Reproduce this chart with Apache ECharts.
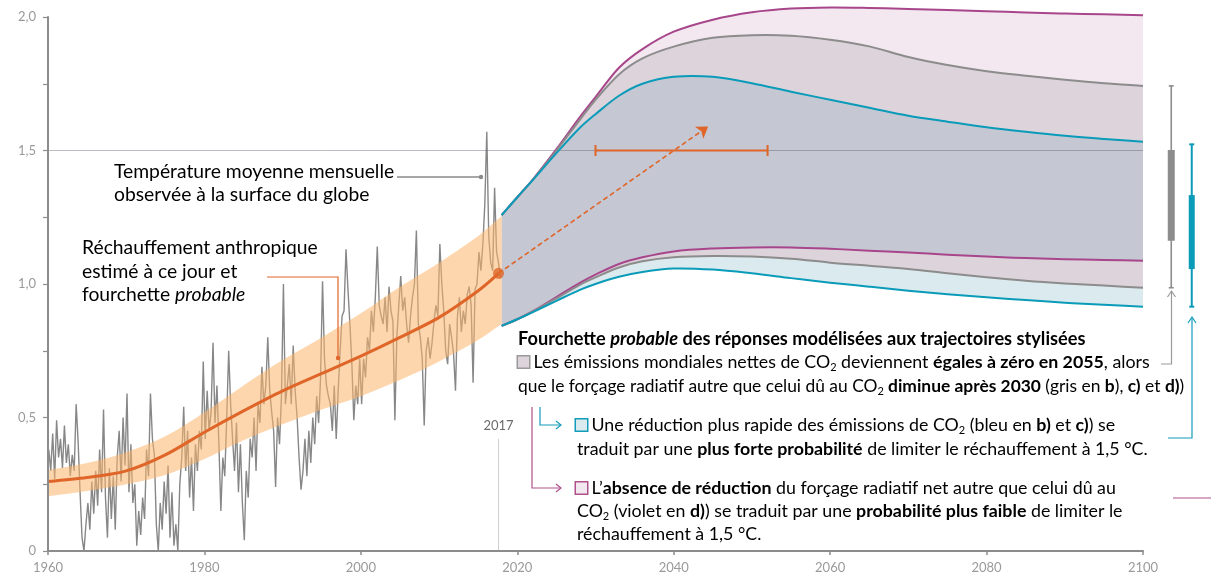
<!DOCTYPE html>
<html>
<head>
<meta charset="utf-8">
<script src="https://cdn.jsdelivr.net/npm/echarts/dist/echarts.min.js"></script>
<style>
html,body{margin:0;padding:0;background:#fff;}
#c{width:1211px;height:579px;}
</style>
</head>
<body>
<div id="c"></div>
<script>
// ---------------- DATA ----------------
const obsStartYear = 1960;
const obsPerYear = 4;
const observed = [
  0.38, 0.30, 0.44, 0.27,  0.49, 0.35, 0.42, 0.31,   // 1960-61
  0.47, 0.33, 0.40, 0.28,  0.36, 0.30, 0.55, 0.41,   // 1962-63
  0.22, 0.05, 0.00, 0.10,  0.18, 0.08, 0.26, 0.14,   // 1964-65
  0.30, 0.17, 0.38, 0.22,  0.53, 0.20, 0.05, 0.31,   // 1966-67
  0.12, 0.28, 0.08, 0.35,  0.45, 0.26, 0.50, 0.32,   // 1968-69
  0.59, 0.22, 0.40, 0.18,  0.25, 0.02, 0.15, 0.06,   // 1970-71
  0.20, 0.12, 0.38, 0.28,  0.59, 0.42, 0.36, 0.10,   // 1972-73
  0.00, 0.18, 0.08, 0.26,  0.14, 0.32, 0.05, 0.22,   // 1974-75
  0.02, 0.10, 0.00, 0.25,  0.35, 0.54, 0.30, 0.45,   // 1976-77
  0.20, 0.35, 0.15, 0.40,  0.30, 0.45, 0.38, 0.71,   // 1978-79
  0.42, 0.60, 0.45, 0.52,  0.78, 0.48, 0.62, 0.40,   // 1980-81
  0.15, 0.35, 0.28, 0.50,  0.75, 0.55, 0.42, 0.30,   // 1982-83
  0.48, 0.22, 0.40, 0.18,  0.04, 0.30, 0.20, 0.42,   // 1984-85
  0.35, 0.50, 0.30, 0.55,  0.48, 0.69, 0.55, 0.62,   // 1986-87
  0.80, 0.60, 0.52, 0.45,  0.24, 0.50, 0.40, 0.58,   // 1988-89
  1.00, 0.55, 0.62, 0.70,  0.55, 0.77, 0.60, 0.50,   // 1990-91
  0.35, 0.23, 0.30, 0.42,  0.28, 0.45, 0.33, 0.50,   // 1992-93
  0.40, 0.58, 0.48, 0.65,  1.01, 0.72, 0.62, 0.58,   // 1994-95
  0.55, 0.45, 0.62, 0.42,  0.60, 0.75, 0.88, 0.90,   // 1996-97
  1.13, 0.98, 0.85, 0.70,  0.49, 0.62, 0.55, 0.72,   // 1998-99
  0.55, 0.72, 0.65, 0.80,  0.75, 0.90, 0.82, 0.95,   // 2000-01
  1.14, 0.92, 0.88, 0.85,  0.95, 0.82, 0.99, 0.90,   // 2002-03
  0.86, 0.49, 0.80, 0.92,  1.03, 0.90, 0.95, 0.85,   // 2004-05
  0.78, 0.88, 0.95, 1.00,  1.20, 0.85, 0.80, 0.72,   // 2006-07
  0.47, 0.75, 0.80, 0.72,  0.78, 0.86, 0.92, 0.88,   // 2008-09
  1.15, 1.00, 0.90, 0.75,  0.70, 0.85, 0.80, 0.74,   // 2010-11
  0.60, 0.88, 0.95, 0.82,  0.90, 0.85, 0.96, 0.99,   // 2012-13
  0.92, 0.63, 0.98, 1.00,  1.12, 1.05, 1.15, 1.30,   // 2014-15
  1.57, 1.18, 1.08, 1.05,  1.36, 1.12, 1.08, 1.02    // 2016-17
];

// Human-induced warming estimate and likely range
const trendYears  = [1960, 1965, 1970, 1975, 1980, 1985, 1990, 1995, 2000, 2005, 2010, 2015, 2017.6];
const trendValues = [0.26, 0.275, 0.30, 0.36, 0.445, 0.525, 0.60, 0.665, 0.73, 0.80, 0.875, 0.975, 1.04];
const bandYears = [1960, 1965, 1970, 1975, 1980, 1985, 1990, 1995, 2000, 2005, 2010, 2015, 2018];
const bandLow   = [0.205, 0.225, 0.25, 0.285, 0.345, 0.415, 0.475, 0.53, 0.58, 0.64, 0.71, 0.79, 0.85];
const bandHigh  = [0.303, 0.33, 0.37, 0.43, 0.52, 0.62, 0.715, 0.80, 0.89, 0.99, 1.08, 1.18, 1.255];

// Stylised pathway responses (likely ranges)
const projYears   = [2018, 2020, 2022, 2025, 2028, 2030, 2033, 2036, 2040, 2045, 2050, 2055, 2060, 2065, 2070, 2075, 2080, 2085, 2090, 2095, 2100];
const tealLower   = [0.843, 0.868, 0.895, 0.937, 0.978, 1.0, 1.027, 1.045, 1.058, 1.054, 1.04, 1.022, 1.005, 0.99, 0.975, 0.962, 0.95, 0.94, 0.93, 0.922, 0.915];
const grayLower   = [0.843, 0.868, 0.897, 0.946, 0.997, 1.025, 1.062, 1.085, 1.10, 1.105, 1.103, 1.095, 1.08, 1.068, 1.056, 1.04, 1.025, 1.012, 1.002, 0.994, 0.986];
const purpleLower = [0.843, 0.868, 0.898, 0.951, 1.004, 1.035, 1.075, 1.10, 1.122, 1.133, 1.137, 1.137, 1.132, 1.125, 1.118, 1.11, 1.103, 1.097, 1.093, 1.09, 1.087];
const tealUpper   = [1.258, 1.325, 1.39, 1.49, 1.585, 1.636, 1.705, 1.75, 1.776, 1.776, 1.752, 1.72, 1.69, 1.66, 1.63, 1.608, 1.587, 1.57, 1.555, 1.543, 1.533];
const grayUpper   = [1.258, 1.325, 1.391, 1.50, 1.615, 1.69, 1.785, 1.845, 1.889, 1.922, 1.932, 1.93, 1.915, 1.89, 1.85, 1.82, 1.797, 1.78, 1.765, 1.752, 1.742];
const purpleUpper = [1.258, 1.325, 1.392, 1.505, 1.625, 1.70, 1.81, 1.88, 1.945, 1.99, 2.018, 2.032, 2.036, 2.034, 2.03, 2.026, 2.022, 2.017, 2.013, 2.01, 2.007];

// Annotations in data units
const markYear = 2017.6;
const markValue = 1.04;
const arrowTo = [2044.4, 1.59];
const peakRange = [2030, 2052];
const peakLevel = 1.5;

// 2100 ranges (min, q1, q3, max)
const boxCategories = ['gris', 'bleu'];
const boxGray = [0.986, 1.162, 1.502, 1.742];
const boxTeal = [0.915, 1.056, 1.333, 1.523];

// Tick labels
const yTickLabels = ['0', '0,5', '1,0', '1,5', '2,0'];
const xTicks = [1960, 1980, 2000, 2020, 2040, 2060, 2080, 2100];

// ---------------- STYLE ----------------
const FONT = 'Lato, "Noto Sans", sans-serif';
const C = {
  axis: '#8c8c8c', label: '#9a9a9a',
  obs: '#878787', orange: '#df6528', band: 'rgba(251,181,105,0.55)',
  teal: '#0a9bb9', gray: '#8c8c8c', purple: '#a8468c',
  fTealLow: '#dbeaee', fMauve: '#ddd3db', fBlue: '#c5c7d3', fPink: '#f3e8ef'
};

const pairs = (xs, ys) => xs.map((x, i) => [x, ys[i]]);
const obsData = observed.map((v, i) => [obsStartYear + i / obsPerYear + 0.1, v]);

// rows for custom-drawn ranges
const bandRows = bandYears.map((y, i) => [y, bandLow[i], bandHigh[i]]);
// columns: year, tealLower, grayLower, purpleLower, tealUpper, grayUpper, purpleUpper
const projRows = projYears.map((y, i) => [y, tealLower[i], grayLower[i], purpleLower[i], tealUpper[i], grayUpper[i], purpleUpper[i]]);

// cubic Hermite path (smooth in x) through pixel points
function splinePath(pts, start) {
  const n = pts.length;
  const m = pts.map((p, i) => {
    const a = pts[Math.max(0, i - 1)], b = pts[Math.min(n - 1, i + 1)];
    return (b[1] - a[1]) / (b[0] - a[0]);
  });
  let d = (start ? 'M' : 'L') + pts[0][0].toFixed(2) + ' ' + pts[0][1].toFixed(2);
  for (let i = 0; i < n - 1; i++) {
    const p = pts[i], q = pts[i + 1], h = (q[0] - p[0]) / 3;
    d += ' C' + (p[0] + h).toFixed(2) + ' ' + (p[1] + m[i] * h).toFixed(2) + ' ' +
         (q[0] - h).toFixed(2) + ' ' + (q[1] - m[i + 1] * h).toFixed(2) + ' ' +
         q[0].toFixed(2) + ' ' + q[1].toFixed(2);
  }
  return d;
}
function colPoints(api, n, k) {
  const pts = [];
  for (let i = 0; i < n; i++) pts.push(api.coord([api.value(0, i), api.value(k, i)]));
  return pts;
}
function bandPath(lo, hi) {
  return splinePath(hi, true) + ' ' + splinePath(lo.slice().reverse(), false) + ' Z';
}

const chart = echarts.init(document.getElementById('c'));
const option = {
  animation: false,
  backgroundColor: '#fff',
  textStyle: { fontFamily: FONT },
  grid: [
    { left: 48, right: 68, top: 17, bottom: 28, containLabel: false, outerBoundsMode: 'none' },
    { left: 1161, width: 41, top: 17, bottom: 28, containLabel: false, outerBoundsMode: 'none' }
  ],
  xAxis: [
    { type: 'value', min: 1960, max: 2100, interval: 20, gridIndex: 0, z: 10,
      axisLine: { show: true, lineStyle: { color: C.axis, width: 2 } },
      axisTick: { show: true, length: 4, lineStyle: { color: C.axis, width: 1.5 } },
      axisLabel: { color: C.label, fontSize: 13, fontFamily: FONT, margin: 10,
        formatter: v => xTicks.includes(v) ? String(v) : '' },
      splitLine: { show: false } },
    { type: 'category', data: boxCategories, gridIndex: 1, show: false }
  ],
  yAxis: [
    { type: 'value', min: 0, max: 2, interval: 0.25, gridIndex: 0, z: 10,
      axisLine: { show: true, lineStyle: { color: C.axis, width: 2 } },
      axisTick: { show: true, length: 5, lineStyle: { color: C.axis, width: 1.2 } },
      axisLabel: { color: C.label, fontSize: 13, fontFamily: FONT, margin: 12,
        formatter: v => { const k = v / 0.5; return Math.abs(k - Math.round(k)) < 1e-6 ? yTickLabels[Math.round(k)] : ''; } },
      splitLine: { show: false } },
    { type: 'value', min: 0, max: 2, gridIndex: 1, show: false }
  ],
  series: [
    // observed monthly temperature
    { type: 'line', data: obsData, showSymbol: false, silent: true, z: 2,
      lineStyle: { color: C.obs, width: 1.4 },
      markLine: { silent: true, symbol: 'none', animation: false,
        lineStyle: { color: '#cfcfcf', width: 1, type: 'solid' },
        label: { show: true, position: 'end', formatter: '2017', color: '#6b6b6b', fontSize: 13, fontFamily: FONT, distance: 7 },
        data: [[{ coord: [markYear, 0] }, { coord: [markYear, 0.42] }]] } },
    // likely range of human-induced warming
    { type: 'custom', z: 3, silent: true, data: bandRows, encode: { x: 0, y: [1, 2] },
      renderItem: (params, api) => {
        if (params.dataIndexInside !== 0) return null;
        const n = params.dataInsideLength;
        return { type: 'path', shape: { pathData: bandPath(colPoints(api, n, 1), colPoints(api, n, 2)) },
          style: { fill: C.band } };
      } },
    // projection fills
    { type: 'custom', z: 2, silent: true, data: projRows, encode: { x: 0, y: [1, 2, 3, 4, 5, 6] },
      renderItem: (params, api) => {
        if (params.dataIndexInside !== 0) return null;
        const n = params.dataInsideLength;
        const L = [null];
        for (let k = 1; k <= 6; k++) L.push(colPoints(api, n, k));
        const f = (lo, hi, color) => ({ type: 'path', shape: { pathData: bandPath(L[lo], L[hi]) }, style: { fill: color } });
        return { type: 'group', children: [
          f(1, 2, C.fTealLow), f(2, 3, C.fMauve), f(3, 4, C.fBlue), f(4, 5, C.fMauve), f(5, 6, C.fPink)
        ] };
      } },
    // human-induced warming line + 1.5 reference line
    { type: 'line', data: pairs(trendYears, trendValues), smooth: 0.3, showSymbol: false, silent: true, z: 4,
      lineStyle: { color: C.orange, width: 3 },
      markLine: { silent: true, symbol: 'none', animation: false, label: { show: false },
        lineStyle: { color: 'rgba(95,95,110,0.42)', width: 1, type: 'solid' },
        data: [{ yAxis: peakLevel }] } },
    // projection lines
    { type: 'custom', z: 5, silent: true, data: projRows, encode: { x: 0, y: [1, 2, 3, 4, 5, 6] },
      renderItem: (params, api) => {
        if (params.dataIndexInside !== 0) return null;
        const n = params.dataInsideLength;
        const ln = (k, color) => ({ type: 'path', shape: { pathData: splinePath(colPoints(api, n, k), true) },
          style: { fill: null, stroke: color, lineWidth: 2 } });
        return { type: 'group', children: [
          ln(6, C.purple), ln(3, C.purple), ln(5, C.gray), ln(2, C.gray), ln(4, C.teal), ln(1, C.teal)
        ] };
      } },
    // dashed arrow
    { type: 'line', data: [], z: 6, silent: true,
      markLine: { silent: true, animation: false, symbol: ['none', 'arrow'], symbolSize: 11, label: { show: false },
        lineStyle: { color: C.orange, width: 1.6, type: [5, 3] },
        data: [[{ coord: [markYear, markValue] }, { coord: arrowTo }]] } },
    // time range at which 1.5 is reached
    { type: 'custom', z: 6, silent: true, data: [[peakRange[0], peakRange[1], peakLevel]],
      encode: { x: [0, 1], y: 2 },
      renderItem: (params, api) => {
        const a = api.coord([api.value(0), api.value(2)]);
        const b = api.coord([api.value(1), api.value(2)]);
        const st = { stroke: C.orange, lineWidth: 2 };
        return { type: 'group', children: [
          { type: 'line', shape: { x1: a[0], y1: a[1], x2: b[0], y2: b[1] }, style: st },
          { type: 'line', shape: { x1: a[0], y1: a[1] - 5.5, x2: a[0], y2: a[1] + 5.5 }, style: st },
          { type: 'line', shape: { x1: b[0], y1: b[1] - 5.5, x2: b[0], y2: b[1] + 5.5 }, style: st }
        ] };
      } },
    // present-day dot
    { type: 'scatter', data: [[markYear, markValue]], symbolSize: 11, z: 7, silent: true,
      itemStyle: { color: C.orange } },
    // 2100 ranges
    { type: 'custom', xAxisIndex: 1, yAxisIndex: 1, z: 5, silent: true,
      data: [[0].concat(boxGray), [1].concat(boxTeal)],
      encode: { x: 0, y: [1, 2, 3, 4] },
      renderItem: (params, api) => {
        const i = params.dataIndex;
        const color = i === 0 ? C.gray : C.teal;
        const lw = i === 0 ? 1.6 : 2;
        const bw = i === 0 ? 7 : 6;
        const x = api.coord([api.value(0), 0])[0];
        const yMin = api.coord([api.value(0), api.value(1)])[1];
        const yQ1 = api.coord([api.value(0), api.value(2)])[1];
        const yQ3 = api.coord([api.value(0), api.value(3)])[1];
        const yMax = api.coord([api.value(0), api.value(4)])[1];
        const st = { stroke: color, lineWidth: lw };
        return { type: 'group', children: [
          { type: 'line', shape: { x1: x, y1: yMax, x2: x, y2: yMin }, style: st },
          { type: 'line', shape: { x1: x - 2.5, y1: yMax, x2: x + 2.5, y2: yMax }, style: st },
          { type: 'line', shape: { x1: x - 2.5, y1: yMin, x2: x + 2.5, y2: yMin }, style: st },
          { type: 'rect', shape: { x: x - bw / 2, y: yQ3, width: bw, height: yQ1 - yQ3 }, style: { fill: color } }
        ] };
      } }
  ],
  graphic: { elements: [] }
};

// --------- text annotations ---------
function richSet(fs, n, b, sq) {
  return {
    n: { fontFamily: FONT, fontSize: fs, color: n, lineHeight: 22 },
    b: { fontFamily: FONT, fontSize: fs, color: b, fontWeight: 'bold', lineHeight: 22 },
    i: { fontFamily: FONT, fontSize: fs, color: n, fontStyle: 'italic', lineHeight: 22 },
    s: { fontFamily: FONT, fontSize: 11, color: n, lineHeight: 10, verticalAlign: 'bottom' },
    sq: sq ? { width: 11, height: 11, backgroundColor: sq[0], borderColor: sq[1], borderWidth: 1.5 } : {}
  };
}
const FS = 17.8;
const richGray = richSet(FS, '#8d8d8d', '#7b7b7b', ['#ddd3db', '#9a9a9a']);
const richGray2 = richSet(17.4, '#8d8d8d', '#7b7b7b', null);
const richTeal = richSet(FS, '#139cba', '#0b8caa', ['#dbeaee', '#139cba']);
const richPurple = richSet(FS, '#b0508d', '#a3407e', ['#f3e8ef', '#b0508d']);
const richTitle = {
  n: { fontFamily: FONT, fontSize: 18.2, color: '#161616', fontWeight: 'bold', lineHeight: 22 },
  i: { fontFamily: FONT, fontSize: 18.2, color: '#161616', fontWeight: 'bold', fontStyle: 'italic', lineHeight: 22 }
};

function T(x, y, text, rich) {
  return { type: 'text', x, y, z: 100, silent: true,
    style: { text, rich, fontFamily: FONT, fontSize: FS, align: 'left', verticalAlign: 'middle' } };
}
function P(points, color, w) {
  return { type: 'polyline', z: 100, silent: true, shape: { points }, style: { stroke: color, lineWidth: w || 1.2, fill: null } };
}
function Dot(cx, cy, color) {
  return { type: 'circle', z: 100, silent: true, shape: { cx, cy, r: 2.2 }, style: { fill: color } };
}

const big = 19.3;
const richBlack = { n: { fontFamily: FONT, fontSize: big, color: '#1a1a1a' } };
const richOrange = {
  n: { fontFamily: FONT, fontSize: big, color: '#e0662b' },
  i: { fontFamily: FONT, fontSize: big, color: '#e0662b', fontStyle: 'italic' }
};

const els = option.graphic.elements;
els.push(
  T(114, 172, '{n|Température moyenne mensuelle}', richBlack),
  T(114, 195, '{n|observée à la surface du globe}', richBlack),
  P([[397, 177], [481, 177]], '#8a8a8a', 1.5), Dot(481, 177, '#8a8a8a'),
  T(82, 248, '{n|Réchauffement anthropique}', richOrange),
  T(82, 272, '{n|estimé à ce jour et}', richOrange),
  T(82, 295, '{n|fourchette }{i|probable}', richOrange),
  P([[267, 277], [338, 277], [338, 358]], '#e0662b', 1.2), Dot(338, 358, '#e0662b'),

  T(518, 339, '{n|Fourchette }{i|probable}{n| des réponses modélisées aux trajectoires stylisées}', richTitle),
  T(518, 362, '{sq|}{n| Les émissions mondiales nettes de CO}{s|2}{n| deviennent }{b|égales à zéro en 2055}{n|, alors}', richGray),
  T(518, 386, '{n|que le forçage radiatif autre que celui dû au CO}{s|2}{b| diminue après 2030}{n| (gris en }{b|b}{n|), }{b|c)}{n| et }{b|d)}{n|)}', richGray2),
  T(576, 425, '{sq|}{n| Une réduction plus rapide des émissions de CO}{s|2}{n| (bleu en }{b|b)}{n| et }{b|c)}{n|) se}', richTeal),
  T(577, 449, '{n|traduit par une }{b|plus forte probabilité}{n| de limiter le réchauffement à 1,5 °C.}', richTeal),
  T(576, 488, '{sq|}{n| L’}{b|absence de réduction}{n| du forçage radiatif net autre que celui dû au}', richPurple),
  T(577, 511, '{n|CO}{s|2}{n| (violet en }{b|d)}{n|) se traduit par une }{b|probabilité plus faible}{n| de limiter le}', richPurple),
  T(577, 534, '{n|réchauffement à 1,5 °C.}', richPurple),

  // legend connectors
  P([[540, 407], [540, 425], [561, 425]], '#139cba', 1.2),
  P([[556, 421], [561, 425], [556, 429]], '#139cba', 1.2),
  P([[532, 407], [532, 488], [561, 488]], '#b0508d', 1.2),
  P([[556, 484], [561, 488], [556, 492]], '#b0508d', 1.2),
  // right connectors
  P([[1161, 364], [1171.5, 364], [1171.5, 292]], '#9a9a9a', 1.2),
  P([[1167.5, 297], [1171.5, 291], [1175.5, 297]], '#9a9a9a', 1.2),
  P([[1168, 438], [1192, 438], [1192, 318]], '#139cba', 1.2),
  P([[1188, 323], [1192, 317], [1196, 323]], '#139cba', 1.2),
  P([[1173, 498], [1211, 498]], '#b0508d', 1.2)
);

chart.setOption(option);
</script>
</body>
</html>
